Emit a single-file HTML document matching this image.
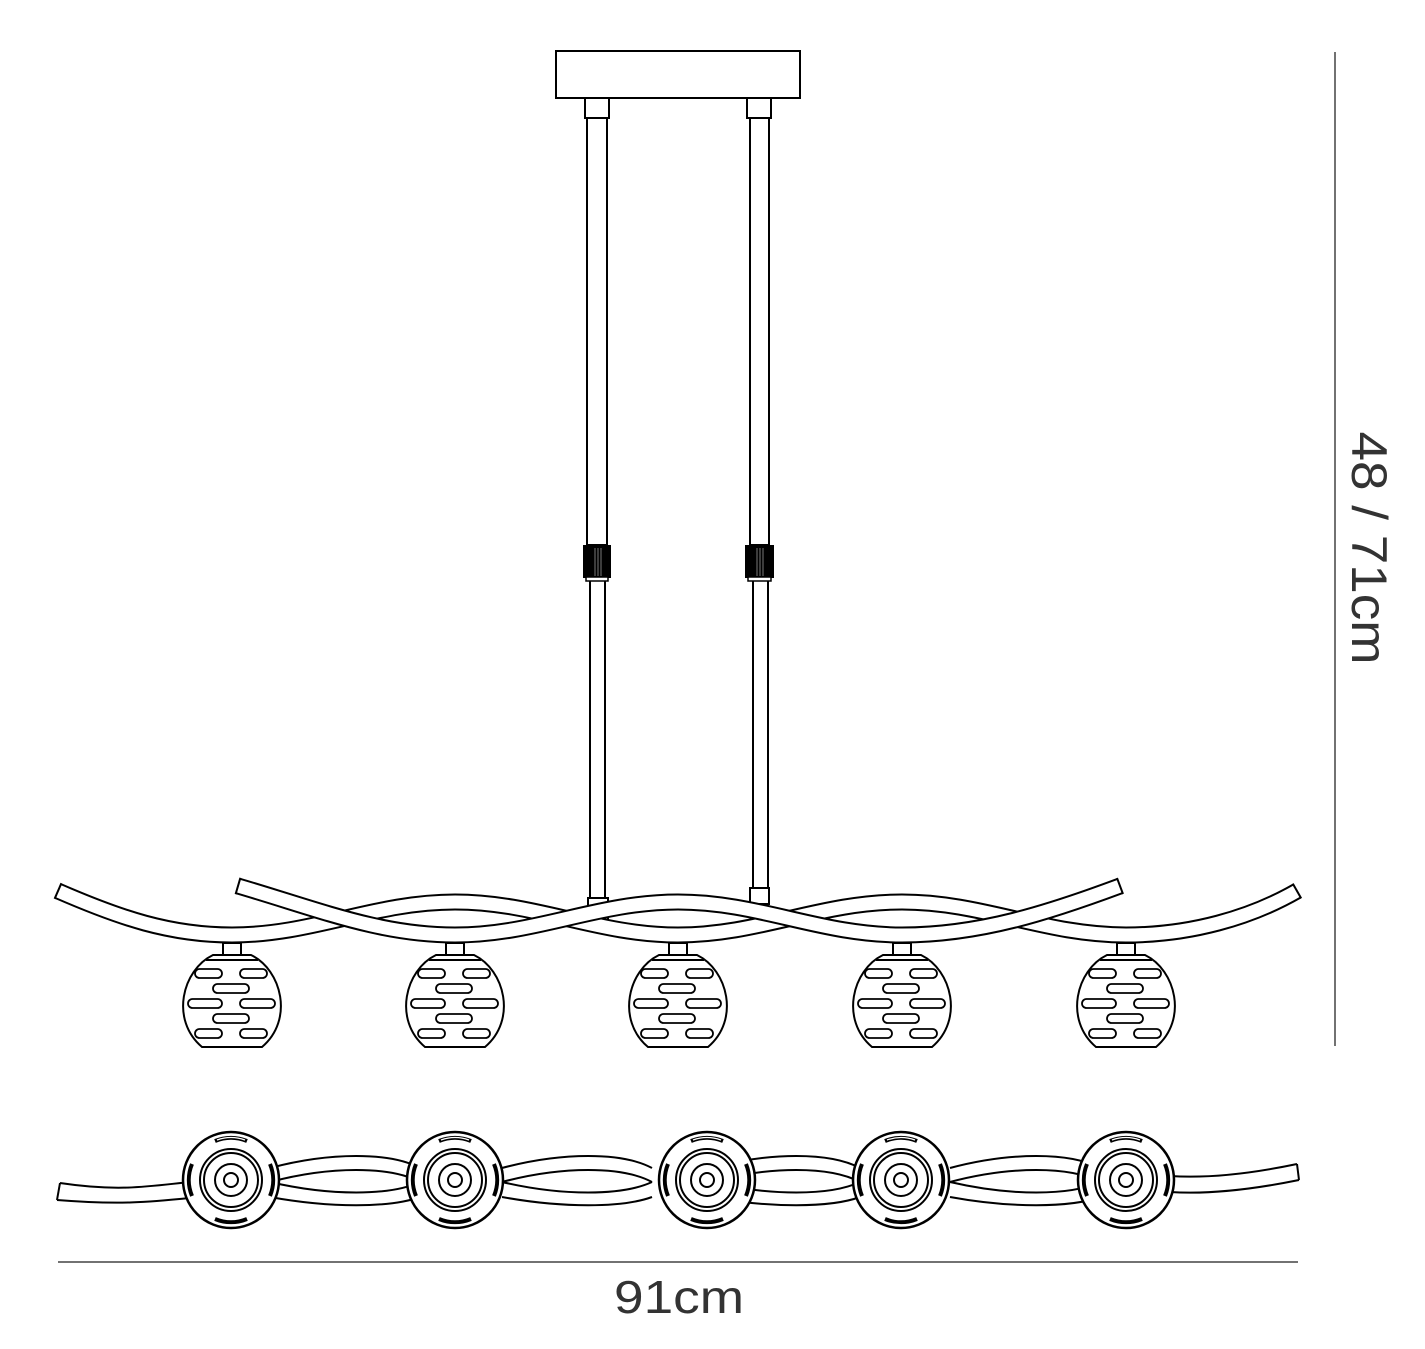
<!DOCTYPE html>
<html><head><meta charset="utf-8"><style>html,body{margin:0;padding:0;background:#fff}svg{display:block}</style></head>
<body>
<svg width="1425" height="1349" viewBox="0 0 1425 1349" xmlns="http://www.w3.org/2000/svg">
<defs>
<g id="bowl" fill="none" stroke="#000" stroke-width="2">
  <rect x="-9" y="-57" width="18" height="12" fill="#fff"/>
  <path d="M-19,-45 L19,-45 C50,-30 62,20 30,47 L-30,47 C-62,20 -50,-30 -19,-45 Z" fill="#fff"/>
  <path d="M-26,-40 L26,-40"/>
  <g stroke-width="1.8">
    <rect x="-37" y="-31" width="27" height="9" rx="4.5"/>
    <rect x="8" y="-31" width="27" height="9" rx="4.5"/>
    <rect x="-19" y="-16" width="36" height="9" rx="4.5"/>
    <rect x="-44" y="-1" width="34" height="9" rx="4.5"/>
    <rect x="8" y="-1" width="35" height="9" rx="4.5"/>
    <rect x="-19" y="14" width="36" height="9" rx="4.5"/>
    <rect x="-37" y="29" width="27" height="9" rx="4.5"/>
    <rect x="8" y="29" width="27" height="9" rx="4.5"/>
  </g>
</g>
<g id="disc" fill="none" stroke="#000" stroke-width="2">
  <circle r="48" fill="#fff" stroke-width="2.5"/>
  <path d="M-16,-39 A42,42 0 0 1 16,-39 M16,39 A42,42 0 0 1 -16,39 M-39,-16 A42,42 0 0 0 -39,16 M39,-16 A42,42 0 0 1 39,16" stroke-width="4"/>
  <path d="M-14,-40 A42,42 0 0 1 14,-40" stroke="#fff" stroke-width="1.2"/>
  <circle r="31"/><circle r="27"/><circle r="16"/><circle r="7"/>
</g>
</defs>

<!-- canopy -->
<rect x="556" y="51" width="244" height="47" fill="#fff" stroke="#000" stroke-width="2"/>
<rect x="585" y="98" width="24" height="20" fill="#fff" stroke="#000" stroke-width="2"/>
<rect x="747" y="98" width="24" height="20" fill="#fff" stroke="#000" stroke-width="2"/>
<!-- rods -->
<g stroke="#000" stroke-width="2" fill="#fff">
  <rect x="587" y="118" width="20" height="427"/>
  <rect x="750" y="118" width="19" height="427"/>
  <rect x="590" y="580" width="15" height="318"/>
  <rect x="753" y="580" width="15" height="308"/>
  <rect x="588" y="898" width="20" height="22"/>
  <rect x="750" y="888" width="19" height="16"/>
</g>
<!-- collars -->
<g>
  <rect x="583" y="545" width="28" height="33" fill="#000"/>
  <rect x="745" y="545" width="29" height="33" fill="#000"/>
  <g stroke="#777" stroke-width="1">
    <line x1="595" y1="548" x2="595" y2="576"/><line x1="598" y1="548" x2="598" y2="576"/><line x1="601" y1="548" x2="601" y2="576"/>
    <line x1="757" y1="548" x2="757" y2="576"/><line x1="760" y1="548" x2="760" y2="576"/><line x1="763" y1="548" x2="763" y2="576"/>
  </g>
  <rect x="586" y="577" width="22" height="4" fill="#fff" stroke="#000" stroke-width="1.5"/>
  <rect x="748" y="577" width="23" height="4" fill="#fff" stroke="#000" stroke-width="1.5"/>
</g>

<!-- arm A -->
<path d="M58,891 C120,918 170,935 232,935 C313,935 374,902 455,902 C536,902 597,935 678,935 C759,935 820,902 902,902 C983,902 1044,935 1126,935 C1190,935 1250,918 1297,891" fill="none" stroke="#000" stroke-width="17"/>
<path d="M58,891 C120,918 170,935 232,935 C313,935 374,902 455,902 C536,902 597,935 678,935 C759,935 820,902 902,902 C983,902 1044,935 1126,935 C1190,935 1250,918 1297,891" fill="none" stroke="#fff" stroke-width="13"/>
<line x1="61.4" y1="883.2" x2="54.6" y2="898.8" stroke="#000" stroke-width="2"/>
<line x1="1292.8" y1="883.6" x2="1301.2" y2="898.4" stroke="#000" stroke-width="2"/>
<!-- arm B -->
<path d="M238,886 C320,910 380,935 455,935 C536,935 597,902 678,902 C759,902 820,935 902,935 C980,935 1050,912 1120,886" fill="none" stroke="#000" stroke-width="17"/>
<path d="M238,886 C320,910 380,935 455,935 C536,935 597,902 678,902 C759,902 820,935 902,935 C980,935 1050,912 1120,886" fill="none" stroke="#fff" stroke-width="13"/>
<line x1="240.4" y1="877.8" x2="235.6" y2="894.2" stroke="#000" stroke-width="2"/>
<line x1="1117" y1="878" x2="1123" y2="894" stroke="#000" stroke-width="2"/>

<!-- pendants -->
<use href="#bowl" x="232" y="1000"/>
<use href="#bowl" x="455" y="1000"/>
<use href="#bowl" x="678" y="1000"/>
<use href="#bowl" x="902" y="1000"/>
<use href="#bowl" x="1126" y="1000"/>

<!-- bottom view arms -->
<g fill="none" stroke="#000" stroke-width="2">
  <path d="M60,1183 L57,1200"/>
  <path d="M60,1183 C120,1192 150,1186 190,1182"/>
  <path d="M57,1200 C120,1205 150,1202 190,1198"/>
  <path d="M1297,1164 L1299,1180"/>
  <path d="M1297,1164 C1240,1176 1200,1178 1170,1176"/>
  <path d="M1299,1180 C1240,1192 1200,1194 1170,1192"/>
</g>
<g fill="none" stroke="#000" stroke-width="2">
  <path id="lens1" d="M270,1168 C330,1152 390,1152 420,1168 M270,1182 C330,1166 390,1166 420,1182 M270,1182 C330,1196 390,1196 420,1182 M270,1197 C330,1208 390,1208 420,1197"/>
  <use href="#lens1" x="232"/>
  <use href="#lens1" x="440"/>
  <use href="#lens1" x="680"/>
</g>
<use href="#disc" x="231" y="1180"/>
<use href="#disc" x="455" y="1180"/>
<use href="#disc" x="707" y="1180"/>
<use href="#disc" x="901" y="1180"/>
<use href="#disc" x="1126" y="1180"/>

<!-- dimensions -->
<line x1="58" y1="1262" x2="1298" y2="1262" stroke="#444" stroke-width="1.5"/>
<text x="679" y="1313" font-family="Liberation Sans, sans-serif" font-size="46" fill="#333" text-anchor="middle" textLength="130" lengthAdjust="spacingAndGlyphs">91cm</text>
<line x1="1335" y1="52" x2="1335" y2="1046" stroke="#444" stroke-width="1.5"/>
<text transform="translate(1352,548) rotate(90)" x="0" y="0" font-family="Liberation Sans, sans-serif" font-size="50" fill="#333" text-anchor="middle" textLength="233" lengthAdjust="spacingAndGlyphs">48 / 71cm</text>
</svg>
</body></html>
